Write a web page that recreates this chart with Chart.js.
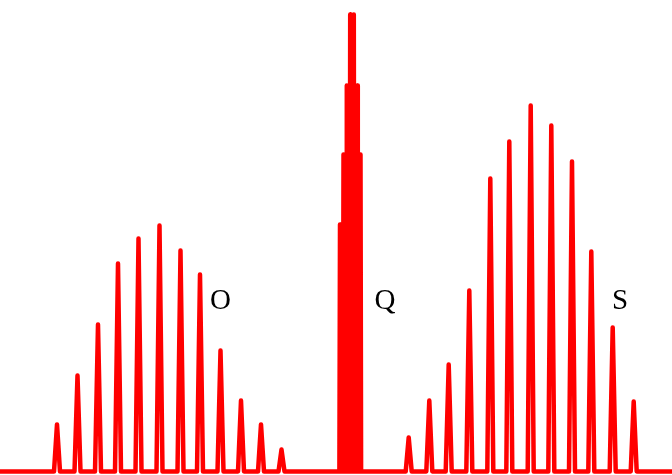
<!DOCTYPE html>
<html lang="en">
<head>
    <meta charset="UTF-8">
    <title>Rotational Raman spectrum: O, Q and S branches</title>
    <script src="https://cdn.jsdelivr.net/npm/chart.js"></script>
    <style>
        html, body {
            margin: 0;
            padding: 0;
            background-color: #ffffff;
        }
        .chart-container {
            width: 672px;
            height: 475px;
        }
    </style>
</head>
<body>
    <div class="chart-container">
        <canvas id="spectrumChart"></canvas>
    </div>

    <script>
        // line positions (arbitrary shift units) and intensities (arbitrary units)
        const oPositions = [57, 77.5, 98, 118, 138.5, 159.5, 180.5, 200, 220.5, 241, 261, 281.5];
        const oHeights   = [47, 96, 147, 208, 233, 246, 221, 197, 121, 71, 47, 22];

        const qPositions = [340, 343.5, 346.8, 350.2, 353.8, 357.2, 360.5];
        const qHeights   = [247, 317, 386, 457, 457, 386, 317];

        const sPositions = [408.7, 429.3, 448.7, 469.3, 490.3, 509.3, 530.7, 551.3, 572, 591.3, 612.7, 633.7];
        const sHeights   = [34, 71, 107, 181, 293, 330, 366, 346, 310, 220, 144, 70];

        // branch labels
        const branchLabels = ['O', 'Q', 'S'];
        const labelX = [220.5, 385, 620];
        const labelY = [170.5, 170.5, 170.5];

        const xMin = 0, xMax = 672;
        const lineHalfWidth = 3;
        const qHalfWidth = 0.6;

        // build the spectrum trace: each line is a narrow spike on the baseline
        const spectrum = [{ x: xMin, y: 0 }];
        function addLines(positions, heights, hw) {
            positions.forEach(function(p, i) {
                spectrum.push({ x: p - hw, y: 0 });
                spectrum.push({ x: p, y: heights[i] });
                spectrum.push({ x: p + hw, y: 0 });
            });
        }
        addLines(oPositions, oHeights, lineHalfWidth);
        addLines(qPositions, qHeights, qHalfWidth);
        addLines(sPositions, sHeights, lineHalfWidth);
        spectrum.push({ x: xMax, y: 0 });

        const branchLabelPlugin = {
            id: 'branchLabels',
            afterDatasetsDraw(chart) {
                const ctx = chart.ctx;
                const xs = chart.scales.x;
                const ys = chart.scales.y;
                ctx.save();
                ctx.fillStyle = '#000000';
                ctx.font = '29px "Liberation Serif", "Times New Roman", serif';
                ctx.textAlign = 'center';
                ctx.textBaseline = 'middle';
                branchLabels.forEach(function(t, i) {
                    ctx.fillText(t, xs.getPixelForValue(labelX[i]), ys.getPixelForValue(labelY[i]));
                });
                ctx.restore();
            }
        };

        const ctx = document.getElementById('spectrumChart').getContext('2d');
        const spectrumChart = new Chart(ctx, {
            type: 'line',
            data: {
                datasets: [{
                    data: spectrum,
                    borderColor: '#ff0000',
                    borderWidth: 4.5,
                    borderJoinStyle: 'round',
                    borderCapStyle: 'round',
                    pointRadius: 0,
                    fill: false,
                    tension: 0,
                    clip: false
                }]
            },
            options: {
                responsive: true,
                maintainAspectRatio: false,
                animation: false,
                layout: {
                    padding: { left: 0, right: 0, top: 0, bottom: 3.5 }
                },
                plugins: {
                    legend: { display: false },
                    tooltip: { enabled: false }
                },
                scales: {
                    x: {
                        type: 'linear',
                        min: xMin,
                        max: xMax,
                        display: false
                    },
                    y: {
                        min: 0,
                        max: 471.5,
                        display: false
                    }
                }
            },
            plugins: [branchLabelPlugin]
        });
    </script>
</body>
</html>
